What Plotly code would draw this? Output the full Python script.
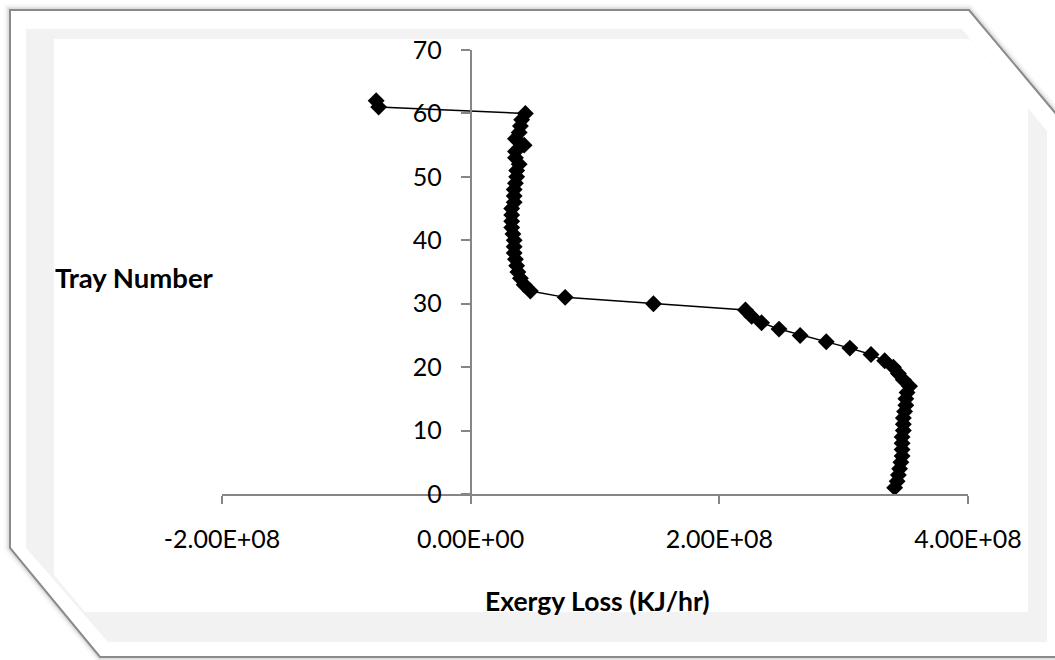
import plotly.graph_objects as go

# Exergy loss per tray (KJ/hr), trays 1..62
trays = list(range(1, 63))
exergy_loss = [
    3.41e8, 3.43e8, 3.44e8, 3.45e8, 3.46e8, 3.47e8, 3.47e8, 3.47e8, 3.47e8, 3.48e8,
    3.48e8, 3.48e8, 3.49e8, 3.50e8, 3.50e8, 3.51e8, 3.53e8, 3.48e8, 3.44e8, 3.40e8,
    3.33e8, 3.22e8, 3.05e8, 2.86e8, 2.65e8, 2.48e8, 2.34e8, 2.26e8, 2.21e8, 1.47e8,
    0.76e8, 0.48e8, 0.43e8, 0.40e8, 0.38e8, 0.37e8, 0.36e8, 0.35e8, 0.35e8, 0.35e8,
    0.34e8, 0.33e8, 0.33e8, 0.33e8, 0.33e8, 0.35e8, 0.35e8, 0.35e8, 0.36e8, 0.37e8,
    0.37e8, 0.39e8, 0.36e8, 0.36e8, 0.43e8, 0.36e8, 0.39e8, 0.40e8, 0.41e8, 0.44e8,
    -0.74e8, -0.76e8,
]

x_tick_vals = [-2e8, 0, 2e8, 4e8]
x_tick_text = ["-2.00E+08", "0.00E+00", "2.00E+08", "4.00E+08"]
y_tick_vals = [0, 10, 20, 30, 40, 50, 60, 70]

W, H = 1055, 660
# plot area in pixels
PL, PR, PT, PB = 222, 968, 50, 494


def px(xp):
    return (xp - PL) / (PR - PL)


def py(yp):
    return (PB - yp) / (PB - PT)


def poly(points):
    return "M " + " L ".join(f"{px(a):.5f},{py(b):.5f}" for a, b in points) + " Z"


# bevelled frame: outer white card, light grey band, white inner panel
outer = [(10, 10), (969, 10), (1062, 121), (1062, 657), (100, 657), (10, 548)]
band = [(26, 29), (962, 29), (1047, 131), (1047, 642), (108, 642), (26, 548)]
inner = [(54, 39), (970, 39), (1028, 108), (1028, 612), (85, 612), (54, 575)]

shapes = []
for w, a in [(12, 0.025), (8, 0.04), (5, 0.07)]:
    shapes.append(dict(type="path", xref="paper", yref="paper", path=poly(outer),
                       line=dict(color=f"rgba(0,0,0,{a})", width=w), layer="below"))
shapes.append(dict(type="path", xref="paper", yref="paper", path=poly(outer),
                   fillcolor="white", line=dict(color="#8a8a8a", width=2), layer="below"))
shapes.append(dict(type="path", xref="paper", yref="paper", path=poly(band),
                   fillcolor="#f2f2f2", line=dict(width=0), layer="below"))
shapes.append(dict(type="path", xref="paper", yref="paper", path=poly(inner),
                   fillcolor="white", line=dict(width=0), layer="below"))

fig = go.Figure()
fig.add_trace(go.Scatter(
    x=exergy_loss, y=trays, mode="lines+markers",
    line=dict(color="black", width=1.5),
    marker=dict(symbol="diamond", size=13, color="black"),
    showlegend=False, cliponaxis=False,
))

font = dict(family="Lato, Carlito, Calibri, sans-serif", color="black")

fig.update_layout(
    width=W, height=H,
    margin=dict(l=PL, r=W - PR, t=PT, b=H - PB, pad=0),
    paper_bgcolor="white", plot_bgcolor="rgba(0,0,0,0)",
    font=dict(**font, size=25),
    shapes=shapes,
    xaxis=dict(
        range=[-2e8, 4e8], tickvals=x_tick_vals, ticktext=x_tick_text,
        showgrid=False, zeroline=False, showline=True, linecolor="#868686", linewidth=2,
        ticks="outside", ticklen=8, tickwidth=2, tickcolor="#868686",
        ticklabelstandoff=14, tickfont=dict(**font, size=25),
    ),
    yaxis=dict(
        range=[0, 70], tickvals=y_tick_vals,
        anchor="free", position=1 / 3,
        showgrid=False, zeroline=False, showline=True, linecolor="#868686", linewidth=2,
        ticks="outside", ticklen=9, tickwidth=2, tickcolor="#868686",
        ticklabelstandoff=14, tickfont=dict(**font, size=25),
    ),
    annotations=[
        dict(text="<b>Tray Number</b>", xref="paper", yref="paper",
             x=px(134), y=py(277), showarrow=False, font=dict(**font, size=27.5),
             xanchor="center", yanchor="middle"),
        dict(text="<b>Exergy Loss (KJ/hr)</b>", xref="paper", yref="paper",
             x=px(597), y=py(601), showarrow=False, font=dict(**font, size=26.5),
             xanchor="center", yanchor="middle"),
    ],
)

fig.write_html("out.html")
